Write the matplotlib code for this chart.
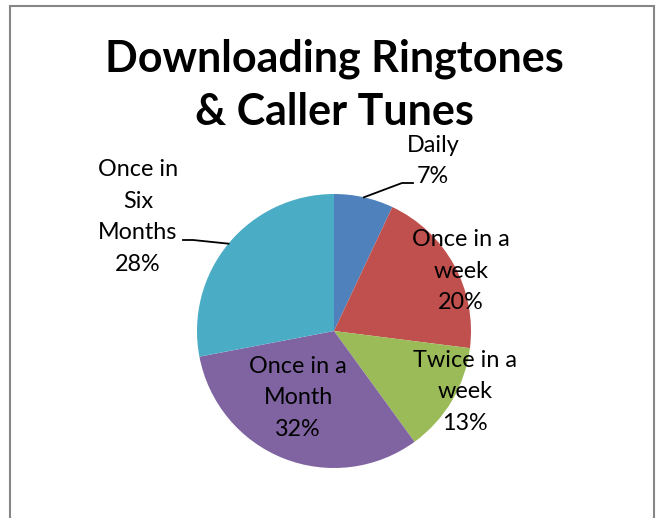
import numpy as np
import matplotlib
matplotlib.use("Agg")
import matplotlib.pyplot as plt
from matplotlib.patches import Rectangle

title = "Downloading Ringtones\n& Caller Tunes"
categories = ["Daily", "Once in a week", "Twice in a week", "Once in a Month", "Once in Six Months"]
label_texts = ["Daily", "Once in a\nweek", "Twice in a\nweek", "Once in a\nMonth", "Once in\nSix\nMonths"]
values = [7, 20, 13, 32, 28]
colors = ["#4F81BD", "#C0504D", "#9BBB59", "#8064A2", "#4BACC6"]

W, H = 658, 518
fig = plt.figure(figsize=(W / 100, H / 100), dpi=100)
ax = fig.add_axes([0, 0, 1, 1])

cx, cy, R = 334, H - 331, 137
wedges, _ = ax.pie(values, colors=colors, startangle=90, counterclock=False,
                   center=(cx, cy), radius=R, frame=True,
                   wedgeprops=dict(linewidth=0))
ax.set_xlim(0, W)
ax.set_ylim(0, H)
ax.axis("off")

font = "Lato"
# label centres (pixels, from top)
label_pos = [(433, 161), (461, 271), (465, 392), (298, 398), (138, 217)]
for txt, v, (lx, ly) in zip(label_texts, values, label_pos):
    ax.text(lx, H - ly, f"{txt}\n{v}%", ha="center", va="center",
            fontsize=16.8, family=font, linespacing=1.62, color="black")

# leader lines
cum = np.cumsum([0] + values)
mids = 90 - (cum[:-1] + np.array(values) / 2) / 100 * 360
def edge(i):
    a = np.deg2rad(mids[i])
    return cx + R * np.cos(a), cy + R * np.sin(a)
x0, y0 = edge(0)
ax.plot([x0, 402, 413], [y0, H - 183, H - 183], color="black", lw=1.3)
x4, y4 = edge(4)
ax.plot([x4, 193, 183], [y4, H - 240, H - 240], color="black", lw=1.3)

ax.text(334, H - 85, title, ha="center", va="center", fontsize=31,
        fontweight="bold", family=font, linespacing=1.38)

ax.add_patch(Rectangle((9.5, -5), 644, H - 5.5 + 5, fill=False,
                       edgecolor="#868686", lw=1.5))

fig.savefig("out.png", dpi=100)
